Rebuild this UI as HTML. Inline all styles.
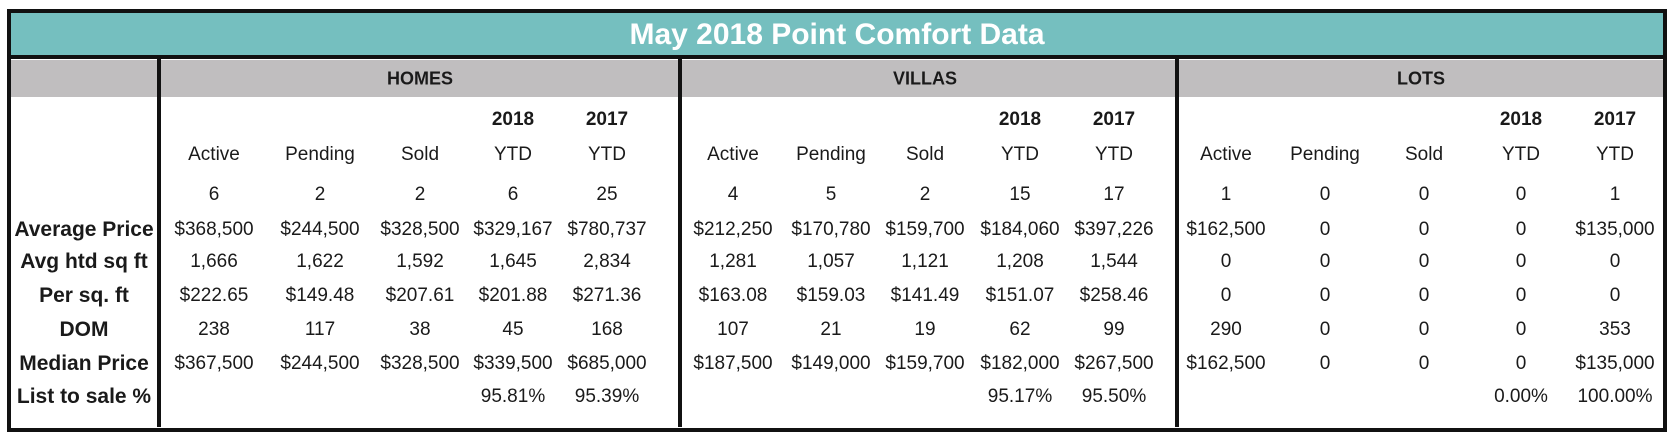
<!DOCTYPE html>
<html><head><meta charset="utf-8">
<style>
body{margin:0;background:#fff;}
#wrap{position:relative;width:1675px;height:441px;overflow:hidden;background:#fff;font-family:"Liberation Sans",sans-serif;color:#1a1a1a;}
.abs{position:absolute;}
.c{position:absolute;transform:translate(-50%,-50%);white-space:nowrap;font-size:19px;}
.b{font-weight:bold;}
.rl{font-size:21px;}
</style></head><body>
<div id="wrap">
  <div class="abs" style="left:9px;top:12px;width:1655px;height:44px;background:#75bfbf;"></div>
  <div class="c b" style="left:837px;top:35px;font-size:30px;color:#fff;">May 2018 Point Comfort Data</div>
  <div class="abs" style="left:9px;top:60px;width:1655px;height:37px;background:#c0bebf;"></div>
  <div class="abs" style="left:9px;top:55px;width:1655px;height:4px;background:#111;"></div>
  <div class="abs" style="left:7px;top:9px;width:1652px;height:415px;border:4px solid #111;"></div>
  <div class="abs" style="left:157px;top:57px;width:4px;height:370px;background:#111;"></div>
  <div class="abs" style="left:678px;top:57px;width:4px;height:370px;background:#111;"></div>
  <div class="abs" style="left:1175px;top:57px;width:4px;height:370px;background:#111;"></div>
  <div class="c b" style="left:420px;top:79px;font-size:18px;">HOMES</div>
  <div class="c b" style="left:925px;top:79px;font-size:18px;">VILLAS</div>
  <div class="c b" style="left:1421px;top:79px;font-size:18px;">LOTS</div>
</div>
<script>
const colX=[214,320,420,513,607,733,831,925,1020,1114,1226,1325,1424,1521,1615];
const years=["","","","2018","2017"];
const colLabels=["Active","Pending","Sold","YTD","YTD"];
const rowLabels=["","Average Price","Avg htd sq ft","Per sq. ft","DOM","Median Price","List to sale %"];
const rowY=[195,230,262,296,330,364,397];
const homes=[["6","2","2","6","25"],["$368,500","$244,500","$328,500","$329,167","$780,737"],["1,666","1,622","1,592","1,645","2,834"],["$222.65","$149.48","$207.61","$201.88","$271.36"],["238","117","38","45","168"],["$367,500","$244,500","$328,500","$339,500","$685,000"],["","","","95.81%","95.39%"]];
const villas=[["4","5","2","15","17"],["$212,250","$170,780","$159,700","$184,060","$397,226"],["1,281","1,057","1,121","1,208","1,544"],["$163.08","$159.03","$141.49","$151.07","$258.46"],["107","21","19","62","99"],["$187,500","$149,000","$159,700","$182,000","$267,500"],["","","","95.17%","95.50%"]];
const lots=[["1","0","0","0","1"],["$162,500","0","0","0","$135,000"],["0","0","0","0","0"],["0","0","0","0","0"],["290","0","0","0","353"],["$162,500","0","0","0","$135,000"],["","","","0.00%","100.00%"]];
const wrap=document.getElementById('wrap');
function txt(s,x,y,cls,name){
  const d=document.createElement('div');
  d.className='c'+cls;
  d.style.left=x+'px';d.style.top=y+'px';
  d.textContent=s;
  
  
  wrap.appendChild(d);
}
const groups=[homes,villas,lots];
groups.forEach((g,gi)=>{
  for(let c=0;c<5;c++){
    const x=colX[gi*5+c];
    if(years[c]) txt(years[c],x,120,' b','year-label');
    txt(colLabels[c],x,155,'','column-label');
    g.forEach((row,ri)=>{ if(row[c]!=='') txt(row[c],x,rowY[ri],'','cell-value'); });
  }
});
rowLabels.forEach((l,ri)=>{ if(l) txt(l,84,rowY[ri],' b rl','row-label'); });
</script>
</body></html>
